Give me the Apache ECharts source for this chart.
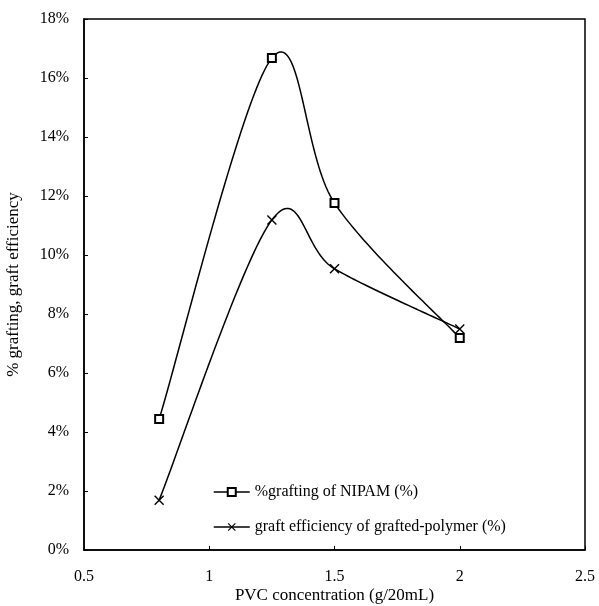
<!DOCTYPE html>
<html>
<head>
<meta charset="utf-8">
<script src="https://cdn.jsdelivr.net/npm/echarts@6/dist/echarts.min.js"></script>
<style>
  html, body { margin: 0; padding: 0; background: #fff; }
  #main { width: 599px; height: 606px; }
</style>
</head>
<body>
<div id="main"></div>
<script>
// 数据
var pvcConc = [0.8, 1.25, 1.5, 2.0];
var graftingNipam = [4.44, 16.68, 11.76, 7.19];
var graftEfficiency = [1.69, 11.19, 9.53, 7.49];
var xTicks = [0.5, 1, 1.5, 2, 2.5];

var crossPath = 'path://M1,0L5,4L9,0L10,1L6,5L10,9L9,10L5,6L1,10L0,9L4,5L0,1Z';
var font = '"Liberation Serif", "DejaVu Serif", serif';
var name1 = '%grafting of NIPAM (%)';
var name2 = 'graft efficiency of grafted-polymer (%)';

function pairs(xs, ys) {
    return xs.map(function (x, i) { return [x, ys[i]]; });
}

// Excel 风格的平滑曲线 (Catmull-Rom -> Bezier)，坐标由坐标轴换算
function smoothCurve(ys) {
    return function (params, api) {
        var p = pvcConc.map(function (x, i) { return api.coord([x, ys[i]]); });
        var n = p.length, pts = [];
        for (var i = 0; i < n - 1; i++) {
            var p0 = p[Math.max(i - 1, 0)], p1 = p[i], p2 = p[i + 1], p3 = p[Math.min(i + 2, n - 1)];
            var c1 = [p1[0] + (p2[0] - p0[0]) / 6, p1[1] + (p2[1] - p0[1]) / 6];
            var c2 = [p2[0] - (p3[0] - p1[0]) / 6, p2[1] - (p3[1] - p1[1]) / 6];
            for (var k = 0; k <= 40; k++) {
                var t = k / 40, u = 1 - t;
                pts.push([
                    u * u * u * p1[0] + 3 * u * u * t * c1[0] + 3 * u * t * t * c2[0] + t * t * t * p2[0],
                    u * u * u * p1[1] + 3 * u * u * t * c1[1] + 3 * u * t * t * c2[1] + t * t * t * p2[1]
                ]);
            }
        }
        return {
            type: 'polyline',
            shape: { points: pts },
            style: { stroke: '#000', lineWidth: 1.5, fill: null }
        };
    };
}

var myChart = echarts.init(document.getElementById('main'));

var option = {
    animation: false,
    backgroundColor: '#fff',
    textStyle: { fontFamily: font, color: '#000' },
    grid: {
        left: 84, top: 19, right: 14, bottom: 56,
        outerBoundsMode: 'none',
        containLabel: false,
        show: true, borderColor: '#000', borderWidth: 1.5
    },
    legend: {
        orient: 'vertical',
        left: 208, top: 479,
        itemWidth: 36, itemHeight: 10, itemGap: 19,
        textStyle: { fontFamily: font, fontSize: 16, color: '#000' },
        data: [
            { name: name1, lineStyle: { opacity: 1, color: '#000', width: 1.5 } },
            { name: name2, lineStyle: { opacity: 1, color: '#000', width: 1.5 } }
        ]
    },
    xAxis: {
        type: 'value',
        min: 0.5, max: 2.5, interval: 0.5,
        name: 'PVC concentration (g/20mL)',
        nameLocation: 'middle', nameGap: 37,
        nameMoveOverlap: false,
        nameTextStyle: { fontFamily: font, fontSize: 17, color: '#000' },
        axisLine: { lineStyle: { color: '#000', width: 1.5 } },
        axisTick: { inside: true, length: 4, lineStyle: { color: '#000' } },
        axisLabel: {
            fontFamily: font, fontSize: 16, color: '#000', margin: 19,
            formatter: function (v) { return xTicks.indexOf(v) >= 0 ? String(v) : ''; }
        },
        splitLine: { show: false }
    },
    yAxis: {
        type: 'value',
        min: 0, max: 18, interval: 2,
        name: '% grafting, graft efficiency',
        nameLocation: 'middle', nameGap: 62,
        nameMoveOverlap: false,
        nameTextStyle: { fontFamily: font, fontSize: 17, color: '#000' },
        axisLine: { show: true, lineStyle: { color: '#000', width: 1.5 } },
        axisTick: { show: true, inside: true, length: 4, lineStyle: { color: '#000' } },
        axisLabel: {
            fontFamily: font, fontSize: 16, color: '#000', margin: 15,
            formatter: '{value}%'
        },
        splitLine: { show: false }
    },
    series: [
        {
            type: 'custom',
            renderItem: smoothCurve(graftingNipam),
            data: [[0]],
            silent: true,
            z: 1
        },
        {
            type: 'custom',
            renderItem: smoothCurve(graftEfficiency),
            data: [[0]],
            silent: true,
            z: 1
        },
        {
            name: name1,
            type: 'line',
            data: pairs(pvcConc, graftingNipam),
            symbol: 'rect',
            symbolSize: 8,
            lineStyle: { color: '#000', width: 1.5, opacity: 0 },
            itemStyle: { color: '#fff', borderColor: '#000', borderWidth: 2 },
            z: 3
        },
        {
            name: name2,
            type: 'line',
            data: pairs(pvcConc, graftEfficiency),
            symbol: crossPath,
            symbolSize: 10,
            lineStyle: { color: '#000', width: 1.5, opacity: 0 },
            itemStyle: { color: '#000', borderWidth: 0 },
            z: 3
        }
    ]
};

myChart.setOption(option);
</script>
</body>
</html>
